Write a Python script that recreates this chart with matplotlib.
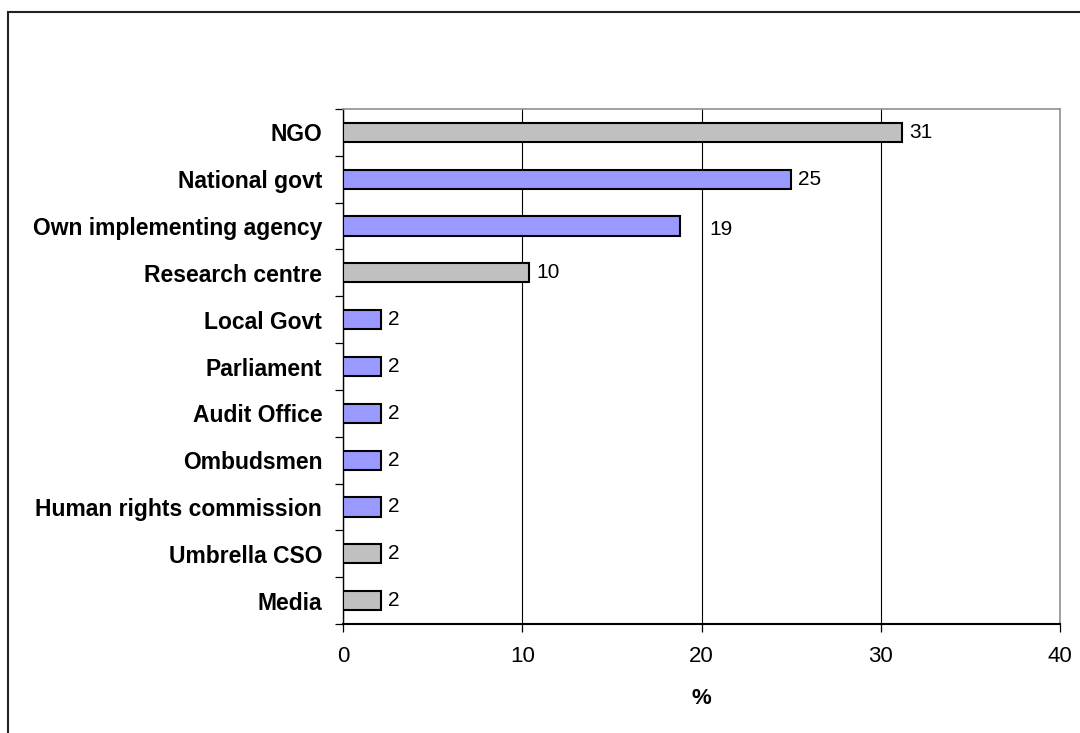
import matplotlib
matplotlib.use("Agg")
import matplotlib.pyplot as plt
from matplotlib.patches import Rectangle
import numpy as np

categories = ["NGO", "National govt", "Own implementing agency", "Research centre",
              "Local Govt", "Parliament", "Audit Office", "Ombudsmen",
              "Human rights commission", "Umbrella CSO", "Media"]
values = [31.2, 25.0, 18.8, 10.4, 2.1, 2.1, 2.1, 2.1, 2.1, 2.1, 2.1]
labels = ["31", "25", "19", "10", "2", "2", "2", "2", "2", "2", "2"]
groups = ["grey", "purple", "purple", "grey", "purple", "purple", "purple",
          "purple", "purple", "grey", "grey"]
xticks = [0, 10, 20, 30, 40]
xlabel = "%"

colour_map = {"grey": "#C0C0C0", "purple": "#9999FF"}

plt.rcParams['font.family'] = ['Liberation Sans', 'DejaVu Sans']

fig = plt.figure(figsize=(10.8, 7.33), dpi=100)
# outer chart border
fig.patches.append(Rectangle((7.5/1080, -0.05), 1.2, 1 - 12/733 + 0.05,
                             transform=fig.transFigure, fill=False,
                             edgecolor="#222222", linewidth=1.5))

top, bottom, left, right = 109, 624, 343, 1060
ax = fig.add_axes([left/1080, 1 - bottom/733, (right - left)/1080, (bottom - top)/733])
n = len(categories)
y = np.arange(n)
ax.barh(y, values, height=0.41, color=[colour_map[g] for g in groups],
        edgecolor="black", linewidth=1.5, zorder=3)

ax.set_ylim(n - 0.5, -0.5)
ax.set_xlim(0, 40)
ax.set_xticks(xticks)
ax.set_xticklabels([str(t) for t in xticks], fontsize=16)
ax.set_yticks(y)
ax.set_yticklabels(categories, fontsize=16.5, fontweight="bold")
ax.tick_params(axis="y", length=0, pad=15)
ax.set_yticks(np.arange(-0.5, n, 1.0), minor=True)
ax.tick_params(axis="y", which="minor", length=6, width=0.9, direction="out")
ax.tick_params(axis="x", length=6, width=0.9, direction="out", pad=10)

ax.xaxis.grid(True, color="black", linewidth=0.8, zorder=0)
ax.set_axisbelow(True)
for s in ["top", "right"]:
    ax.spines[s].set_color("#909090")
    ax.spines[s].set_linewidth(1.2)
ax.spines["left"].set_linewidth(1.0)
ax.spines["bottom"].set_linewidth(1.5)

offsets = [(5, 0), (5, 0), (21, -2.5), (5, 0), (5, 0), (5, 0), (5, 0),
           (5, 0), (5, 0), (5, 0), (5, 0)]
for yi, v, lab, off in zip(y, values, labels, offsets):
    ax.annotate(lab, (v, yi), xytext=off, textcoords="offset points",
                va="center", ha="left", fontsize=15)

ax.set_xlabel(xlabel, fontsize=16, fontweight="bold", labelpad=15)

fig.savefig("out.png", dpi=100)
